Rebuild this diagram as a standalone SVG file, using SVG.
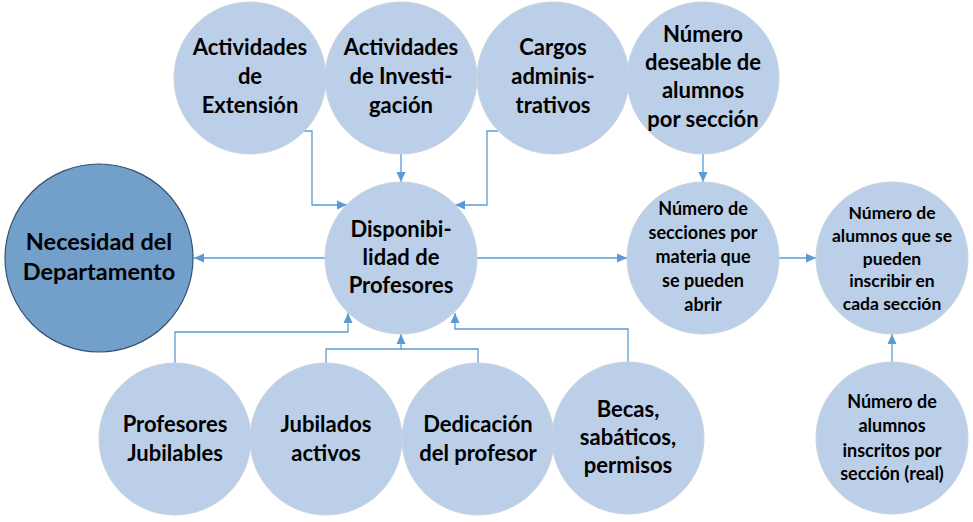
<svg xmlns="http://www.w3.org/2000/svg" width="973" height="522" viewBox="0 0 973 522">
<style>
.n{fill:#bccfe8;stroke:#c9d3df;stroke-width:1}
.d{fill:#739fcb;stroke:#34526f;stroke-width:1.2}
text{font-family:Lato,"Open Sans","Liberation Sans",sans-serif;font-weight:bold;fill:#000;text-anchor:middle}
.t{font-size:22px}
.s{font-size:18px}
.c{fill:none;stroke:#5b9bd5;stroke-width:1.3}
</style>
<defs>
<marker id="ah" markerUnits="userSpaceOnUse" markerWidth="12" markerHeight="12" viewBox="0 0 12 12" refX="11" refY="6" orient="auto">
<path d="M1,1.5 L11,6 L1,10.5 Z" fill="#5b9bd5"/>
</marker>
</defs>
<g id="connectors">
<path class="c" d="M401,154 V182" marker-end="url(#ah)"/>
<path class="c" d="M304,131 H312 V205 H347" marker-end="url(#ah)"/>
<path class="c" d="M498,131 H487 V205 H455" marker-end="url(#ah)"/>
<path class="c" d="M628,363 V329 H455 V313" marker-end="url(#ah)"/>
<path class="c" d="M175,363 V332 H348 V313" marker-end="url(#ah)"/>
<path class="c" d="M326,363 V349 H478 V363"/>
<path class="c" d="M401,349 V334" marker-end="url(#ah)"/>
<path class="c" d="M325,258 H194" marker-end="url(#ah)"/>
<path class="c" d="M477,258 H627" marker-end="url(#ah)"/>
<path class="c" d="M779,258 H816" marker-end="url(#ah)"/>
<path class="c" d="M703,154 V182" marker-end="url(#ah)"/>
<path class="c" d="M892,363 V334" marker-end="url(#ah)"/>
</g>
<g id="extension"><circle class="n" cx="250" cy="78" r="76"/>
<text class="t" x="250" y="55">Actividades</text><text class="t" x="250" y="84">de</text><text class="t" x="250" y="113">Extensión</text></g>
<g id="investigacion"><circle class="n" cx="401" cy="78" r="76"/>
<text class="t" x="401" y="55">Actividades</text><text class="t" x="401" y="84">de Investi-</text><text class="t" x="401" y="113">gación</text></g>
<g id="cargos"><circle class="n" cx="553" cy="78" r="76"/>
<text class="t" x="553" y="55">Cargos</text><text class="t" x="553" y="84">adminis-</text><text class="t" x="553" y="113">trativos</text></g>
<g id="deseable"><circle class="n" cx="703" cy="78" r="76"/>
<text class="t" x="703" y="42">Número</text><text class="t" x="703" y="70">deseable de</text><text class="t" x="703" y="98">alumnos</text><text class="t" x="703" y="127">por sección</text></g>
<g id="necesidad"><circle class="d" cx="99" cy="258" r="94"/>
<text class="t" x="99" y="250" style="font-size:23.5px">Necesidad del</text><text class="t" x="99" y="280" style="font-size:23.5px">Departamento</text></g>
<g id="disponibilidad"><circle class="n" cx="401" cy="258" r="76"/>
<text class="t" x="401" y="237">Disponibi-</text><text class="t" x="401" y="265">lidad de</text><text class="t" x="401" y="293">Profesores</text></g>
<g id="secciones"><circle class="n" cx="703" cy="258" r="76"/>
<text class="s" x="703" y="215">Número de</text><text class="s" x="703" y="239">secciones por</text><text class="s" x="703" y="263">materia que</text><text class="s" x="703" y="287">se pueden</text><text class="s" x="703" y="311">abrir</text></g>
<g id="cada"><circle class="n" cx="892" cy="258" r="76"/>
<text class="s" x="892" y="219" style="font-size:17.5px">Número de</text><text class="s" x="892" y="242" style="font-size:17.5px">alumnos que se</text><text class="s" x="892" y="265" style="font-size:17.5px">pueden</text><text class="s" x="892" y="287" style="font-size:17.5px">inscribir en</text><text class="s" x="892" y="310" style="font-size:17.5px">cada sección</text></g>
<g id="jubilables"><circle class="n" cx="175" cy="439" r="76"/>
<text class="t" x="175" y="432">Profesores</text><text class="t" x="175" y="461">Jubilables</text></g>
<g id="jubilados"><circle class="n" cx="326" cy="439" r="76"/>
<text class="t" x="326" y="432">Jubilados</text><text class="t" x="326" y="461">activos</text></g>
<g id="dedicacion"><circle class="n" cx="478" cy="439" r="76"/>
<text class="t" x="478" y="432">Dedicación</text><text class="t" x="478" y="461">del profesor</text></g>
<g id="becas"><circle class="n" cx="628" cy="438" r="76"/>
<text class="t" x="628" y="417">Becas,</text><text class="t" x="628" y="445">sabáticos,</text><text class="t" x="628" y="473">permisos</text></g>
<g id="inscritos"><circle class="n" cx="892" cy="438" r="76"/>
<text class="s" x="892" y="408">Número de</text><text class="s" x="892" y="432">alumnos</text><text class="s" x="892" y="457">inscritos por</text><text class="s" x="892" y="480">sección (real)</text></g>
</svg>
